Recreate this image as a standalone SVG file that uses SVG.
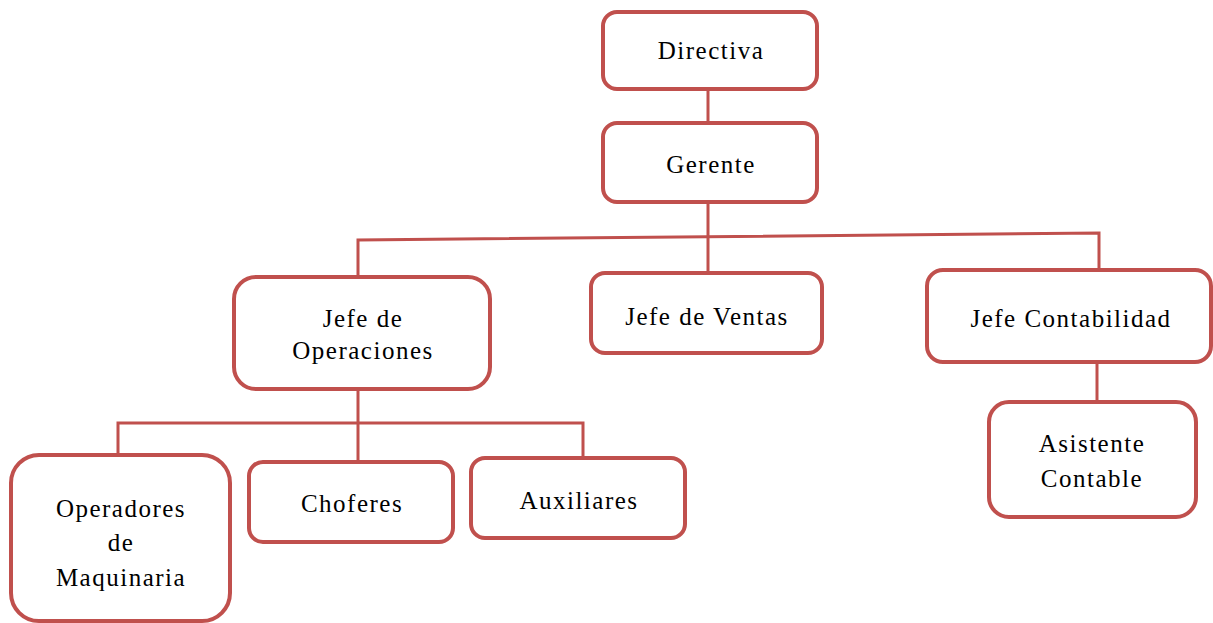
<svg xmlns="http://www.w3.org/2000/svg" width="1213" height="623" viewBox="0 0 1213 623">
<style>
.box{fill:#ffffff;stroke:#C0504D;stroke-width:4}
.lbl{font-family:"Liberation Serif","Times New Roman",serif;font-size:25px;fill:#000000;text-anchor:middle;letter-spacing:1.5px}
.conn{fill:none;stroke:#C0504D;stroke-width:3}
</style>
<rect width="1213" height="623" fill="#ffffff"/>
<g id="connectors">
<line class="conn" x1="708" y1="89" x2="708" y2="123"/>
<line class="conn" x1="708" y1="202" x2="708" y2="273"/>
<polyline class="conn" points="358,277 358,240 1099,233 1099,270"/>
<line class="conn" x1="1097" y1="362" x2="1097" y2="402"/>
<line class="conn" x1="358" y1="389" x2="358" y2="462"/>
<polyline class="conn" points="118,453 118,423 583,423 583,458"/>
</g>
<g id="directiva">
<rect class="box" x="603" y="12" width="214" height="77" rx="14"/>
<text class="lbl" x="711" y="59">Directiva</text>
</g>
<g id="gerente">
<rect class="box" x="603" y="123" width="214" height="79" rx="14"/>
<text class="lbl" x="711" y="173">Gerente</text>
</g>
<g id="jefe-operaciones">
<rect class="box" x="234" y="277" width="256" height="112" rx="22"/>
<text class="lbl" x="363" y="327">Jefe de</text>
<text class="lbl" x="363" y="359">Operaciones</text>
</g>
<g id="jefe-ventas">
<rect class="box" x="591" y="273" width="231" height="80" rx="14"/>
<text class="lbl" x="707" y="325">Jefe de Ventas</text>
</g>
<g id="jefe-contabilidad">
<rect class="box" x="927" y="270" width="284" height="92" rx="16"/>
<text class="lbl" x="1071" y="327">Jefe Contabilidad</text>
</g>
<g id="asistente-contable">
<rect class="box" x="989" y="402" width="207" height="115" rx="20"/>
<text class="lbl" x="1092" y="452">Asistente</text>
<text class="lbl" x="1092" y="487">Contable</text>
</g>
<g id="operadores">
<rect class="box" x="11" y="455" width="219" height="166" rx="28"/>
<text class="lbl" x="121" y="517">Operadores</text>
<text class="lbl" x="121" y="551">de</text>
<text class="lbl" x="121" y="586">Maquinaria</text>
</g>
<g id="choferes">
<rect class="box" x="249" y="462" width="204" height="80" rx="14"/>
<text class="lbl" x="352" y="512">Choferes</text>
</g>
<g id="auxiliares">
<rect class="box" x="471" y="458" width="214" height="80" rx="14"/>
<text class="lbl" x="579" y="509">Auxiliares</text>
</g>
</svg>
